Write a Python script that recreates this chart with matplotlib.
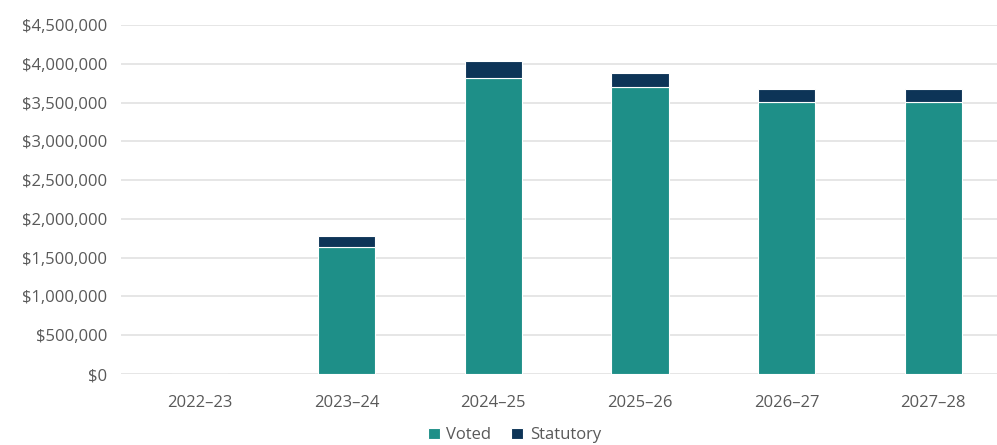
import matplotlib
matplotlib.use("Agg")
import matplotlib.pyplot as plt
from matplotlib.ticker import FuncFormatter
import numpy as np

years = ["2022\u201323", "2023\u201324", "2024\u201325", "2025\u201326", "2026\u201327", "2027\u201328"]
voted = [0, 1640000, 3815000, 3700000, 3510000, 3510000]
statutory = [0, 140000, 215000, 180000, 165000, 165000]

VOTED_C = "#1E8F88"
STAT_C = "#0D3457"
TEXT_C = "#595959"

plt.rcParams["font.family"] = ["Open Sans", "DejaVu Sans"]

fig = plt.figure(figsize=(9.97, 4.45), dpi=100)
ax = fig.add_axes([121 / 997, 71 / 445, 876 / 997, 349 / 445])

x = np.arange(len(years))
w = 0.39
ax.bar(x, voted, w, color=VOTED_C, edgecolor="white", linewidth=0.8, label="Voted", zorder=3)
ax.bar(x, statutory, w, bottom=voted, color=STAT_C, edgecolor="white", linewidth=0.8,
       label="Statutory", zorder=3)

left = -0.5 - 5.5 / 146.7
ax.set_xlim(left, left + 876 / 146.7)
ax.set_ylim(0, 4500000)
ax.set_yticks(np.arange(0, 4500001, 500000))
ax.yaxis.set_major_formatter(FuncFormatter(lambda v, p: f"${v:,.0f}"))
ax.set_xticks(x)
ax.set_xticklabels(years)

ax.grid(axis="y", color="#E6E6E6", linewidth=1.4, zorder=0)
for s in ax.spines.values():
    s.set_visible(False)
ax.tick_params(length=0, labelsize=12, colors=TEXT_C, pad=10)
ax.tick_params(axis="x", pad=15)

handles, labels = ax.get_legend_handles_labels()
fig.legend(handles, labels, loc="lower center", bbox_to_anchor=(0.516, -0.03), ncol=2,
           frameon=False, fontsize=12, labelcolor=TEXT_C, handlelength=0.7,
           handleheight=0.7, handletextpad=0.4, columnspacing=1.2)

fig.savefig("out.png", dpi=100)
